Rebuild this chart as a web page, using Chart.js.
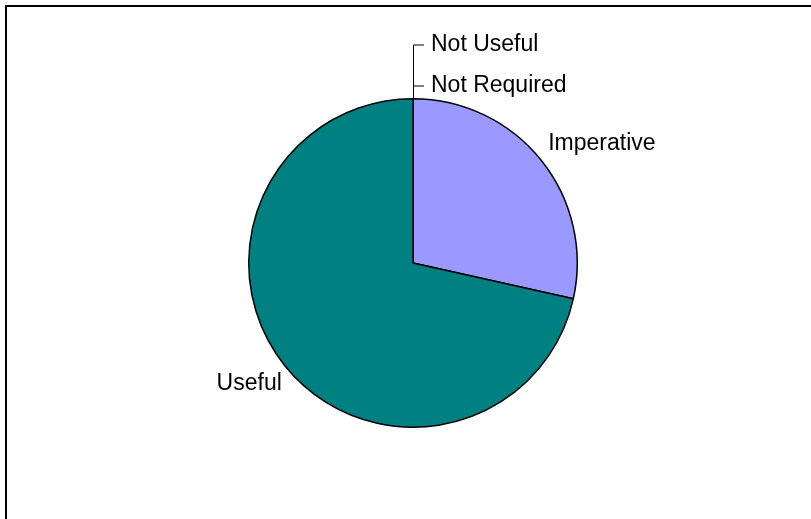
<!DOCTYPE html>
<html>
<head>
<meta charset="utf-8">
<script src="https://cdn.jsdelivr.net/npm/chart.js@4"></script>
<style>
  html, body { margin: 0; padding: 0; background: #fff; }
  #wrap { width: 811px; height: 519px; position: relative; }
</style>
</head>
<body>
<div id="wrap"><canvas id="chartCanvas" width="811" height="519"></canvas></div>
<script>
// datos del grafico
const labels = ['Imperative', 'Useful', 'Not Required', 'Not Useful'];
const values = [28.5, 71.5, 0, 0];
const colors = ['#9999FF', '#008080', '#FF99CC', '#FFFFCC'];

const FONT = '23px "Liberation Sans", Arial, sans-serif';

// marco y etiquetas al estilo Excel
const frame = {
  id: 'frame',
  beforeDraw(chart) {
    const ctx = chart.ctx;
    ctx.save();
    ctx.fillStyle = '#fff';
    ctx.fillRect(0, 0, chart.width, chart.height);
    ctx.strokeStyle = '#000';
    ctx.lineWidth = 2;
    ctx.strokeRect(6, 6, chart.width + 20, chart.height + 20);
    ctx.restore();
  },
  afterDraw(chart) {
    const ctx = chart.ctx;
    const meta = chart.getDatasetMeta(0);
    ctx.save();
    ctx.font = FONT;
    ctx.fillStyle = '#000';
    let zeroRow = 0;
    const zeroYs = [86, 45];
    meta.data.forEach((arc, i) => {
      const p = arc.getProps(['x', 'y', 'startAngle', 'endAngle', 'outerRadius'], true);
      if (values[i] === 0) {
        // etiquetas de valor cero con linea guia
        const topX = p.x, topY = p.y - p.outerRadius;
        const y = zeroYs[zeroRow++];
        ctx.strokeStyle = '#000';
        ctx.lineWidth = 1;
        ctx.beginPath();
        ctx.moveTo(topX + 0.5, topY);
        ctx.lineTo(topX + 0.5, y);
        ctx.lineTo(topX + 11, y);
        ctx.stroke();
        ctx.textAlign = 'left';
        ctx.textBaseline = 'middle';
        ctx.fillText(labels[i], topX + 18, y);
        return;
      }
      const mid = (p.startAngle + p.endAngle) / 2;
      const r = p.outerRadius + 9;
      let x = p.x + Math.cos(mid) * r;
      const y = p.y + Math.sin(mid) * r;
      if (x < p.x) x += 4;
      ctx.textAlign = x >= p.x ? 'left' : 'right';
      ctx.textBaseline = y <= p.y ? 'bottom' : 'top';
      ctx.fillText(labels[i], x, y + (y > p.y ? 1 : 0));
    });
    ctx.restore();
  }
};

document.addEventListener('DOMContentLoaded', () => {
  const ctx = document.getElementById('chartCanvas').getContext('2d');
  new Chart(ctx, {
    type: 'pie',
    data: {
      labels: labels,
      datasets: [{
        data: values,
        backgroundColor: colors,
        borderColor: '#000',
        borderWidth: 1.5,
        borderAlign: 'center'
      }]
    },
    options: {
      responsive: false,
      animation: false,
      layout: { padding: { top: 98, bottom: 91, left: 213, right: 198 } },
      plugins: {
        legend: { display: false },
        tooltip: { enabled: false }
      }
    },
    plugins: [frame]
  });
});
</script>
</body>
</html>
